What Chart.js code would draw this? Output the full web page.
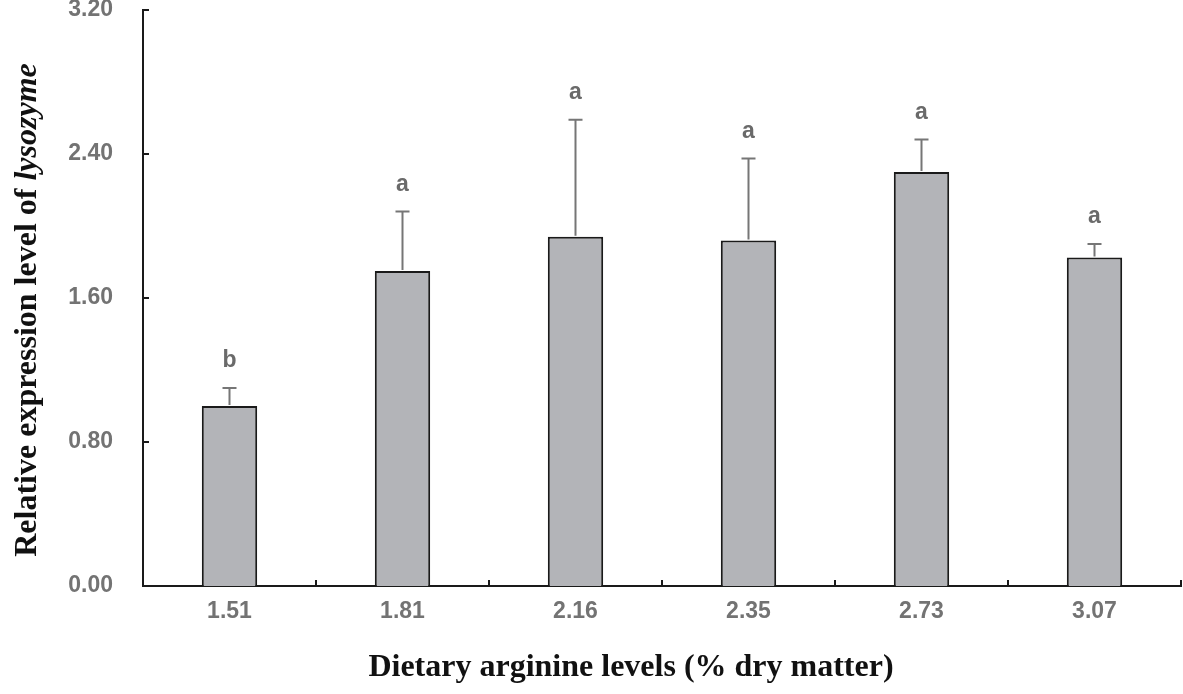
<!DOCTYPE html>
<html>
<head>
<meta charset="utf-8">
<script src="https://cdn.jsdelivr.net/npm/chart.js@4.4.0/dist/chart.umd.min.js"></script>
<style>
  html, body { margin: 0; padding: 0; background: #fff; }
  #wrap { width: 1183px; height: 694px; }
</style>
</head>
<body>
<div id="wrap"><canvas id="lysoChart"></canvas></div>
<script>
// Data
const argLevels = ['1.51', '1.81', '2.16', '2.35', '2.73', '3.07'];
const meanExpr = [1.00, 1.75, 1.94, 1.92, 2.30, 1.825];
const errUpper = [1.10, 2.08, 2.59, 2.375, 2.48, 1.90];
const sigLetters = ['b', 'a', 'a', 'a', 'a', 'a'];
const yTicks = [0, 0.8, 1.6, 2.4, 3.2];

const tickGray = '#737373';

// error bars + significance letters
const errorBarPlugin = {
    id: 'errorBars',
    afterDatasetsDraw(chart) {
        const ctx = chart.ctx;
        const meta = chart.getDatasetMeta(0);
        const y = chart.scales.y;
        ctx.save();
        meta.data.forEach((bar, i) => {
            const yTop = y.getPixelForValue(errUpper[i]);
            const yMean = y.getPixelForValue(meanExpr[i]);
            ctx.strokeStyle = '#767676';
            ctx.lineWidth = 2;
            ctx.beginPath();
            ctx.moveTo(bar.x, yMean - 1);
            ctx.lineTo(bar.x, yTop);
            ctx.moveTo(bar.x - 7, yTop);
            ctx.lineTo(bar.x + 7, yTop);
            ctx.stroke();

            ctx.fillStyle = '#6a6a6a';
            ctx.font = 'bold 23px "Liberation Sans", Arial, sans-serif';
            ctx.textAlign = 'center';
            ctx.textBaseline = 'middle';
            ctx.fillText(sigLetters[i], bar.x, yTop - 27);
        });
        ctx.restore();
    }
};

// axis titles with mixed bold / bold italic
const titlePlugin = {
    id: 'axisTitles',
    afterDraw(chart) {
        const ctx = chart.ctx;
        ctx.save();
        ctx.fillStyle = '#111';
        ctx.textBaseline = 'middle';

        const xTitle = 'Dietary arginine levels (% dry matter)';
        ctx.font = 'bold 32px "Liberation Serif", "Times New Roman", serif';
        ctx.textAlign = 'center';
        ctx.fillText(xTitle, 631, 668);

        const part1 = 'Relative expression level of ';
        const part2 = 'lysozyme';
        const f1 = 'bold 32px "Liberation Serif", "Times New Roman", serif';
        const f2 = 'italic bold 32px "Liberation Serif", "Times New Roman", serif';
        ctx.font = f1;
        const w1 = ctx.measureText(part1).width;
        ctx.font = f2;
        const w2 = ctx.measureText(part2).width;
        ctx.translate(28, 310);
        ctx.rotate(-Math.PI / 2);
        ctx.textAlign = 'left';
        let start = -(w1 + w2) / 2;
        ctx.font = f1;
        ctx.fillText(part1, start, 0);
        ctx.font = f2;
        ctx.fillText(part2, start + w1, 0);
        ctx.restore();
    }
};

const ctx = document.getElementById('lysoChart').getContext('2d');
new Chart(ctx, {
    type: 'bar',
    data: {
        labels: argLevels,
        datasets: [{
            data: meanExpr,
            backgroundColor: '#b3b4b8',
            borderColor: '#1a1a1a',
            borderWidth: 2,
            borderSkipped: 'bottom',
            barPercentage: 0.32,
            categoryPercentage: 1.0
        }]
    },
    options: {
        responsive: true,
        maintainAspectRatio: false,
        animation: false,
        layout: { padding: { top: 10, right: 2, bottom: 0, left: 0 } },
        plugins: {
            legend: { display: false },
            tooltip: { enabled: false }
        },
        scales: {
            x: {
                offset: true,
                grid: { display: false, drawTicks: false },
                border: { display: true, color: '#1a1a1a', width: 2 },
                ticks: {
                    color: tickGray,
                    font: { family: '"Liberation Sans", Arial, sans-serif', size: 23, weight: 'bold' },
                    padding: 12
                },
                afterFit(scale) { scale.height = 108; }
            },
            y: {
                min: 0,
                max: 3.2,
                afterBuildTicks(scale) {
                    scale.ticks = yTicks.map(v => ({ value: v }));
                },
                grid: { display: false, drawTicks: false },
                border: { display: true, color: '#1a1a1a', width: 2 },
                ticks: {
                    color: tickGray,
                    font: { family: '"Liberation Sans", Arial, sans-serif', size: 23, weight: 'bold' },
                    padding: 30,
                    callback: v => v.toFixed(2)
                },
                afterFit(scale) {
                    scale.width = 143;
                    scale.paddingTop = 0;
                    scale.paddingBottom = 0;
                }
            }
        }
    },
    plugins: [errorBarPlugin, titlePlugin, {
        id: 'innerTicks',
        afterDraw(chart) {
            const c = chart.ctx;
            const area = chart.chartArea;
            const y = chart.scales.y;
            c.save();
            c.strokeStyle = '#1a1a1a';
            c.lineWidth = 2;
            c.beginPath();
            yTicks.forEach(v => {
                const py = y.getPixelForValue(v);
                c.moveTo(area.left, py);
                c.lineTo(area.left + 6, py);
            });
            const step = (area.right - area.left) / argLevels.length;
            for (let i = 1; i <= argLevels.length; i++) {
                const px = area.left + step * i;
                c.moveTo(px, area.bottom);
                c.lineTo(px, area.bottom - 6);
            }
            c.stroke();
            c.restore();
        }
    }]
});
</script>
</body>
</html>
